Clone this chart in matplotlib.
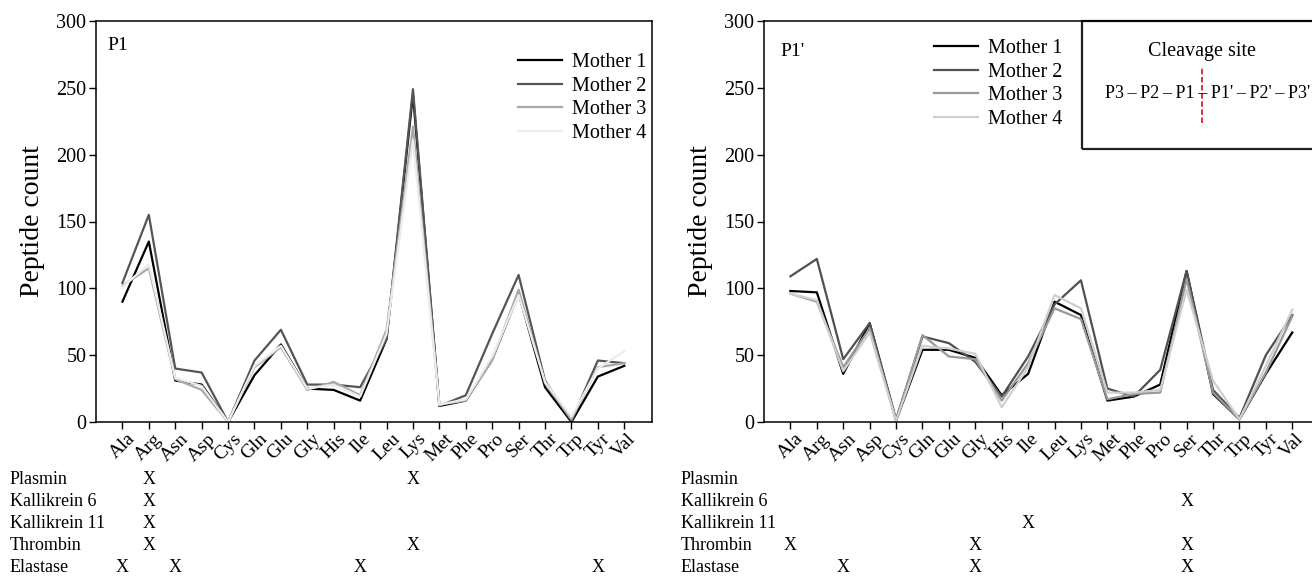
import matplotlib
matplotlib.use("Agg")
import matplotlib.pyplot as plt
from matplotlib.patches import Rectangle
from matplotlib.lines import Line2D
import matplotlib.transforms as mtransforms

plt.rcParams['font.family'] = ['Liberation Serif', 'DejaVu Serif']

amino = ['Ala', 'Arg', 'Asn', 'Asp', 'Cys', 'Gln', 'Glu', 'Gly', 'His', 'Ile',
         'Leu', 'Lys', 'Met', 'Phe', 'Pro', 'Ser', 'Thr', 'Trp', 'Tyr', 'Val']
mothers = ['Mother 1', 'Mother 2', 'Mother 3', 'Mother 4']

# P1 position
p1_m1 = [90, 135, 31, 28, 0, 35, 58, 25, 24, 16, 62, 245, 12, 16, 47, 96, 26, 0, 34, 42]
p1_m2 = [104, 155, 40, 37, 0, 46, 69, 28, 28, 26, 62, 249, 12, 20, 66, 110, 31, 1, 46, 44]
p1_m3 = [102, 115, 32, 24, 0, 41, 56, 24, 30, 20, 69, 221, 13, 16, 46, 99, 29, 2, 41, 44]
p1_m4 = [101, 118, 33, 27, 0, 42, 57, 25, 28, 19, 66, 211, 13, 17, 49, 95, 30, 4, 40, 53]

# P1' position
p1p_m1 = [98, 97, 36, 74, 1, 54, 54, 48, 20, 36, 90, 80, 16, 19, 28, 113, 21, 2, 36, 67]
p1p_m2 = [109, 122, 47, 74, 2, 64, 59, 45, 19, 49, 88, 106, 25, 19, 39, 113, 24, 3, 50, 80]
p1p_m3 = [96, 90, 41, 70, 1, 65, 49, 47, 16, 44, 85, 77, 17, 21, 22, 107, 22, 2, 37, 79]
p1p_m4 = [96, 91, 38, 67, 1, 57, 55, 51, 11, 41, 95, 85, 22, 22, 24, 99, 31, 2, 42, 84]

enzymes = ['Plasmin', 'Kallikrein 6', 'Kallikrein 11', 'Thrombin', 'Elastase']
p1_sites = {'Plasmin': ['Arg', 'Lys'],
            'Kallikrein 6': ['Arg'],
            'Kallikrein 11': ['Arg'],
            'Thrombin': ['Arg', 'Lys'],
            'Elastase': ['Ala', 'Asn', 'Ile', 'Tyr']}
p1p_sites = {'Plasmin': [],
             'Kallikrein 6': ['Ser'],
             'Kallikrein 11': ['Ile'],
             'Thrombin': ['Ala', 'Gly', 'Ser'],
             'Elastase': ['Asn', 'Gly', 'Ser']}

W, H = 1312, 578
fig = plt.figure(figsize=(W / 100, H / 100), dpi=100)

ax_w = 556 / W
ax_b = 1 - 422 / H
ax_h = 401 / H
ax1 = fig.add_axes([96 / W, ax_b, ax_w, ax_h])
ax2 = fig.add_axes([764 / W, ax_b, ax_w, ax_h])

x = list(range(len(amino)))
left_colors = ['#000000', '#555555', '#a8a8a8', '#ececec']
right_colors = ['#000000', '#505050', '#999999', '#cfcfcf']

for ys, c, lab in zip([p1_m1, p1_m2, p1_m3, p1_m4], left_colors, mothers):
    ax1.plot(x, ys, color=c, lw=1.6, label=lab)
for ys, c, lab in zip([p1p_m1, p1p_m2, p1p_m3, p1p_m4], right_colors, mothers):
    ax2.plot(x, ys, color=c, lw=1.6, label=lab)

for ax in (ax1, ax2):
    ax.set_xlim(-1, 20.05)
    ax.set_ylim(0, 300)
    ax.set_yticks(range(0, 301, 50))
    ax.set_xticks(x)
    ax.set_xticklabels(amino, rotation=45, fontsize=14)
    ax.tick_params(axis='y', labelsize=14.5, length=5, width=1, pad=2)
    ax.tick_params(axis='x', length=5, width=1, pad=1)
    ax.set_ylabel('Peptide count', fontsize=20, labelpad=8)
    for s in ax.spines.values():
        s.set_linewidth(1.1)

ax1.text(0.02, 0.94, 'P1', transform=ax1.transAxes, fontsize=14, va='center', ha='left')
ax2.text(0.03, 0.923, "P1'", transform=ax2.transAxes, fontsize=14, va='center', ha='left')

ax1.legend(loc='upper right', bbox_to_anchor=(0.99, 0.92), frameon=False, fontsize=14.5,
           handlelength=2.2, handletextpad=0.5, labelspacing=0.22, borderpad=0, borderaxespad=0)
ax2.legend(loc='upper left', bbox_to_anchor=(0.305, 0.955), frameon=False, fontsize=14.5,
           handlelength=2.2, handletextpad=0.5, labelspacing=0.22, borderpad=0, borderaxespad=0)

# cleavage site box
bx0 = (1082 - 764) / 556
by0 = (422 - 149) / 401
ax2.add_patch(Rectangle((bx0, by0), 1.2 - bx0, 1 - by0, transform=ax2.transAxes,
                        fill=False, lw=1.6, ec='#222222', clip_on=False))
ax2.text(0.788, 0.923, 'Cleavage site', transform=ax2.transAxes, fontsize=14.5,
         ha='center', va='center')
ax2.text(0.797, 0.82, "P3\u2009\u2013\u2009P2\u2009\u2013\u2009P1\u2009\u2013\u2009P1'\u2009\u2013\u2009P2'\u2009\u2013\u2009P3'",
         transform=ax2.transAxes, fontsize=13, ha='center', va='center')
ax2.add_line(Line2D([0.788, 0.788], [0.746, 0.883], transform=ax2.transAxes,
                    color='#e0201c', lw=1.3, ls=(0, (3, 1.5)), clip_on=False))

# enzyme table
row_y = [480, 501, 523, 545, 567]
for ax, sites, lx in ((ax1, p1_sites, 10), (ax2, p1p_sites, 681)):
    trans = mtransforms.blended_transform_factory(ax.transData, fig.transFigure)
    for enz, yy in zip(enzymes, row_y):
        fy = 1 - yy / H
        fig.text(lx / W, fy, enz, fontsize=13, ha='left', va='center')
        for aa in sites[enz]:
            fig.text(amino.index(aa), fy, 'X', transform=trans, fontsize=13,
                     ha='center', va='center')

fig.savefig('out.png', dpi=100)
